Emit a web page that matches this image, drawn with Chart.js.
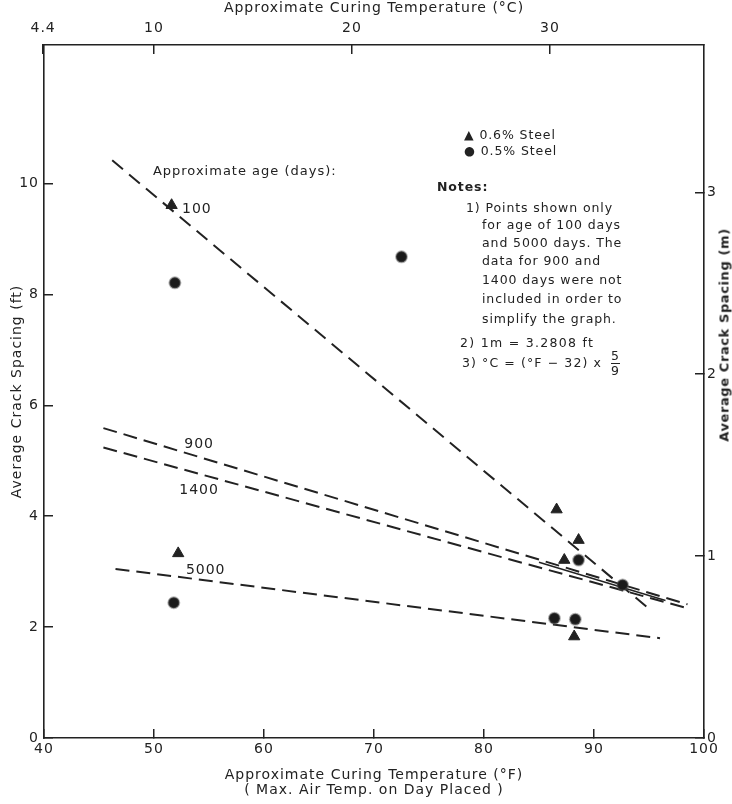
<!DOCTYPE html>
<html>
<head>
<meta charset="utf-8">
<script src="https://cdn.jsdelivr.net/npm/chart.js@4.4.0/dist/chart.umd.min.js"></script>
<style>
    body { margin: 0; background: #fff; }
    #wrap { position: relative; width: 732px; height: 804px; }
    #crackChart { position: absolute; left: 0; top: 0; }
    .txt { position: absolute; font-family: 'DejaVu Sans', sans-serif; font-size: 12.5px; color: #222; letter-spacing: 0.9px; white-space: nowrap; line-height: 18px; }
    .frac { display: inline-block; vertical-align: middle; text-align: center; line-height: 14px; margin-left: 4px; }
    .frac span { display: block; }
    .frac .num { border-bottom: 1.5px solid #222; }
    #right-title { position: absolute; left: 724px; top: 335px; transform: translate(-50%, -50%) rotate(-90deg); font: bold 13px 'DejaVu Sans', sans-serif; color: #222; white-space: nowrap; letter-spacing: 0.6px; }
</style>
</head>
<body>
<div id="wrap">
    <canvas id="crackChart" width="732" height="804"></canvas>

    <div class="txt" style="left:464px; top:126px;">&#9650; 0.6% Steel</div>
    <div class="txt" style="left:464px; top:142px;">&#9679; 0.5% Steel</div>
    <div class="txt" style="left:437px; top:178px; font-weight:bold;">Notes:</div>
    <div class="txt" style="left:466px; top:199px;">1) Points shown only</div>
    <div class="txt" style="left:482px; top:216px;">for age of 100 days</div>
    <div class="txt" style="left:482px; top:234px;">and 5000 days. The</div>
    <div class="txt" style="left:482px; top:252px;">data for 900 and</div>
    <div class="txt" style="left:482px; top:271px;">1400 days were not</div>
    <div class="txt" style="left:482px; top:290px;">included in order to</div>
    <div class="txt" style="left:482px; top:310px;">simplify the graph.</div>
    <div class="txt" style="left:460px; top:334px; letter-spacing:1.3px;">2) 1m = 3.2808 ft</div>
    <div class="txt" style="left:462px; top:349px; letter-spacing:1.1px;">3) °C = (°F − 32) x <span class="frac"><span class="num">5</span><span>9</span></span></div>

    <div id="right-title">Average Crack Spacing (m)</div>
</div>

<script>
// axis ticks
const fahrenheitTicks = [40, 50, 60, 70, 80, 90, 100];
const celsiusTicks = [4.4, 10, 20, 30];
const feetTicks = [0, 2, 4, 6, 8, 10];
const metreTicks = [0, 1, 2, 3];
const feetMax = 12.5;
const feetPerMetre = 3.2808;

// 0.6% steel (triangles)
const steel06Temp = [51.6, 86.6, 88.6, 87.3, 52.2, 88.2];
const steel06Spacing = [9.61, 4.12, 3.57, 3.21, 3.33, 1.83];

// 0.5% steel (circles)
const steel05Temp = [51.9, 72.5, 88.6, 92.6, 51.8, 86.4, 88.3];
const steel05Spacing = [8.21, 8.68, 3.21, 2.76, 2.44, 2.16, 2.14];

// trend lines per age (end points)
const age100Temp = [46.2, 95.0];
const age100Spacing = [10.42, 2.33];
const age900Temp = [45.4, 98.5];
const age900Spacing = [5.59, 2.41];
const age1400Temp = [45.4, 98.5];
const age1400Spacing = [5.24, 2.34];
const age5000Temp = [46.5, 96.0];
const age5000Spacing = [3.05, 1.80];
const mergedTemp = [85.0, 96.5];
const mergedSpacing = [3.17, 2.48];

// line labels
const ageLabels = ['100', '900', '1400', '5000'];
const ageLabelTemp = [53.9, 54.1, 54.1, 54.7];
const ageLabelSpacing = [9.54, 5.29, 4.47, 3.02];
const ageHeading = 'Approximate age (days):';
const ageHeadingTemp = 49.9;
const ageHeadingSpacing = 10.21;

const ink = '#222';
const fontName = "'DejaVu Sans', sans-serif";

const toPoints = (xs, ys) => xs.map((x, i) => ({ x: x, y: ys[i] }));

function trend(label, xs, ys, dash) {
    return {
        type: 'line',
        label: label,
        data: toPoints(xs, ys),
        borderColor: ink,
        borderWidth: 2,
        borderDash: dash,
        pointRadius: 0,
        fill: false,
        xAxisID: 'x',
        yAxisID: 'y'
    };
}

function fixSize(prop, size) {
    return (scale) => { scale[prop] = size; };
}

// wider lettering like the original stencil text
const spacingPlugin = {
    id: 'letterSpacing',
    beforeDraw(chart) {
        chart.ctx.letterSpacing = '1px';
    }
};

// --- age labels drawn at data positions ---
const ageLabelPlugin = {
    id: 'ageLabels',
    afterDatasetsDraw(chart) {
        const { ctx, scales } = chart;
        ctx.save();
        ctx.fillStyle = ink;
        ctx.font = '14px ' + fontName;
        ctx.textAlign = 'center';
        ctx.textBaseline = 'middle';
        ageLabels.forEach((t, i) => {
            ctx.fillText(t, scales.x.getPixelForValue(ageLabelTemp[i]), scales.y.getPixelForValue(ageLabelSpacing[i]));
        });
        ctx.font = '13px ' + fontName;
        ctx.textAlign = 'left';
        ctx.fillText(ageHeading, scales.x.getPixelForValue(ageHeadingTemp), scales.y.getPixelForValue(ageHeadingSpacing));
        ctx.restore();
    }
};

const tickFont = { family: fontName, size: 14 };
const titleFont = { family: fontName, size: 14, lineHeight: 1.1 };
const gridOpts = { drawOnChartArea: false, drawTicks: true, tickLength: -9, tickColor: ink, lineWidth: 1.5 };
const borderOpts = { display: true, color: ink, width: 1.6 };

new Chart(document.getElementById('crackChart'), {
    type: 'scatter',
    data: {
        datasets: [
            {
                label: '0.6% Steel',
                data: toPoints(steel06Temp, steel06Spacing),
                pointStyle: 'triangle',
                pointRadius: 6.5,
                backgroundColor: ink,
                borderColor: ink,
                borderWidth: 1
            },
            {
                label: '0.5% Steel',
                data: toPoints(steel05Temp, steel05Spacing),
                pointStyle: 'circle',
                pointRadius: 5.5,
                backgroundColor: '#1a1a1a',
                borderColor: 'rgba(90,90,90,0.45)',
                borderWidth: 2
            },
            trend('100 days', age100Temp, age100Spacing, [14, 8]),
            trend('900 days', age900Temp, age900Spacing, [14, 7]),
            trend('1400 days', age1400Temp, age1400Spacing, [14, 7]),
            trend('5000 days', age5000Temp, age5000Spacing, [14, 7]),
            Object.assign(trend('merged', mergedTemp, mergedSpacing, []), { borderWidth: 1.5 })
        ]
    },
    options: {
        responsive: false,
        animation: false,
        layout: { padding: 0 },
        plugins: {
            legend: { display: false },
            tooltip: { enabled: false }
        },
        scales: {
            x: {
                type: 'linear',
                position: 'bottom',
                min: 40,
                max: 100,
                afterBuildTicks: (s) => { s.ticks = fahrenheitTicks.map(v => ({ value: v })); },
                afterFit: fixSize('height', 66),
                ticks: { color: ink, font: tickFont, padding: 12, maxRotation: 0 },
                grid: gridOpts,
                border: borderOpts,
                title: {
                    display: true,
                    text: ['Approximate Curing Temperature (°F)', '( Max. Air Temp. on Day Placed )'],
                    color: ink,
                    font: titleFont,
                    padding: { top: 0, bottom: 6 }
                }
            },
            x2: {
                type: 'linear',
                position: 'top',
                min: (40 - 32) * 5 / 9,
                max: (100 - 32) * 5 / 9,
                afterBuildTicks: (s) => { s.ticks = celsiusTicks.map(v => ({ value: v })); },
                afterFit: fixSize('height', 45),
                ticks: { color: ink, font: tickFont, padding: 17, maxRotation: 0, callback: (v) => String(v) },
                grid: gridOpts,
                border: borderOpts,
                title: {
                    display: true,
                    text: 'Approximate Curing Temperature (°C)',
                    color: ink,
                    font: titleFont,
                    padding: { top: 1, bottom: 0 }
                }
            },
            y: {
                type: 'linear',
                position: 'left',
                min: 0,
                max: feetMax,
                afterBuildTicks: (s) => { s.ticks = feetTicks.map(v => ({ value: v })); },
                afterFit: fixSize('width', 44),
                ticks: { color: ink, font: tickFont, padding: 14 },
                grid: gridOpts,
                border: borderOpts,
                title: {
                    display: true,
                    text: 'Average Crack Spacing (ft)',
                    color: ink,
                    font: titleFont,
                    padding: { top: 10, bottom: 0 }
                }
            },
            y2: {
                type: 'linear',
                position: 'right',
                min: 0,
                max: feetMax / feetPerMetre,
                afterBuildTicks: (s) => { s.ticks = metreTicks.map(v => ({ value: v })); },
                afterFit: fixSize('width', 28),
                ticks: { color: ink, font: tickFont, padding: 12 },
                grid: gridOpts,
                border: borderOpts,
                title: { display: false }
            }
        }
    },
    plugins: [spacingPlugin, ageLabelPlugin]
});
</script>
</body>
</html>
